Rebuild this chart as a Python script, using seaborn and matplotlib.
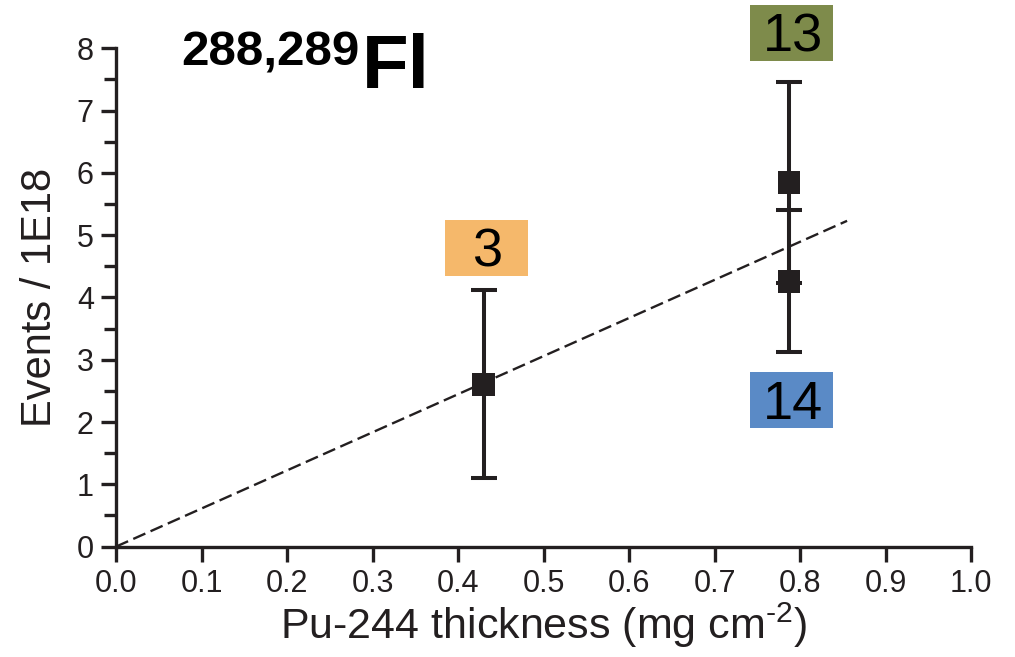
import numpy as np
import pandas as pd
import matplotlib
matplotlib.use("Agg")
import matplotlib.pyplot as plt
import seaborn as sns
from matplotlib.ticker import MultipleLocator
from matplotlib.patches import Rectangle

# ---- data ----
thickness = [0.43, 0.787, 0.787]
events = [2.60, 5.85, 4.25]
err_low = [1.50, 1.61, 1.12]
err_high = [1.52, 1.61, 1.15]
labels = ["3", "13", "14"]
label_y = [4.80, 8.25, 2.35]
label_colors = ["#F5B86B", "#7E8B4B", "#5A8AC6"]
fit_x = [0.0, 0.855]
fit_y = [0.0, 5.23]

xticks = np.round(np.arange(0, 1.01, 0.1), 1)
yticks = list(range(0, 9))

INK = "#231F20"

sns.set_theme(style="ticks")
plt.rcParams["font.family"] = ["Liberation Sans", "DejaVu Sans"]
plt.rcParams["mathtext.fontset"] = "custom"
plt.rcParams["mathtext.rm"] = "Liberation Sans"
plt.rcParams["mathtext.default"] = "regular"
plt.rcParams["text.color"] = INK
plt.rcParams["axes.labelcolor"] = INK
plt.rcParams["xtick.color"] = INK
plt.rcParams["ytick.color"] = INK

fig = plt.figure(figsize=(10.15, 6.57), dpi=100)
ax = fig.add_axes([0.1143, 0.168, 0.8424, 0.7585])

df = pd.DataFrame({"x": thickness, "y": events})
fit = pd.DataFrame({"x": fit_x, "y": fit_y})

sns.lineplot(data=fit, x="x", y="y", ax=ax, color=INK, linewidth=1.7,
             dashes=False, zorder=1)
ax.lines[-1].set_dashes((5.6, 2.4))

ax.errorbar(thickness, events, yerr=[err_low, err_high], fmt="none",
            ecolor=INK, elinewidth=2.9, capsize=9.5, capthick=2.9, zorder=2)
sns.scatterplot(data=df, x="x", y="y", ax=ax, marker="s", s=270,
                color=INK, edgecolor="none", zorder=3)

ax.set_xlim(0, 1.0)
ax.set_ylim(0, 8)

# label boxes: fixed size (83 x 56 px)
box_w = 83 / (0.8424 * 1015) * 1.0
box_h = 56 / (0.7585 * 657) * 8.0
cap_px = 38 / (0.7585 * 657) * 8.0
for x, ly, t, c in zip(thickness, label_y, labels, label_colors):
    ax.add_patch(Rectangle((x + 0.003 - box_w / 2, ly - box_h / 2), box_w, box_h,
                           facecolor=c, edgecolor="none", clip_on=False, zorder=4))
    ax.text(x + 0.005, ly - cap_px / 2, t, ha="center", va="baseline",
            fontsize=39, color="black", clip_on=False, zorder=5)

ax.set_xticks(xticks)
ax.set_xticklabels([f"{v:.1f}" for v in xticks])
ax.set_yticks(yticks)
ax.yaxis.set_minor_locator(MultipleLocator(0.5))

sns.despine(ax=ax)
for s in ["left", "bottom"]:
    ax.spines[s].set_linewidth(2.4)
    ax.spines[s].set_color(INK)
ax.tick_params(axis="both", which="major", direction="out", length=11,
               width=2.4, labelsize=22, pad=5)
ax.tick_params(axis="y", which="minor", direction="out", length=9, width=2.4)

ax.set_xlabel(r"Pu-244 thickness (mg cm$^{\text{-}2}$)", fontsize=31, labelpad=1)
ax.set_ylabel("Events / 1E18", fontsize=30, labelpad=12)

fig.text(0.179, 0.901, "288,289", fontsize=35.5, fontweight="bold",
         ha="left", va="baseline", color="black")
fig.text(0.357, 0.866, "Fl", fontsize=55, fontweight="bold",
         ha="left", va="baseline", color="black")

fig.savefig("out.png", dpi=100)
